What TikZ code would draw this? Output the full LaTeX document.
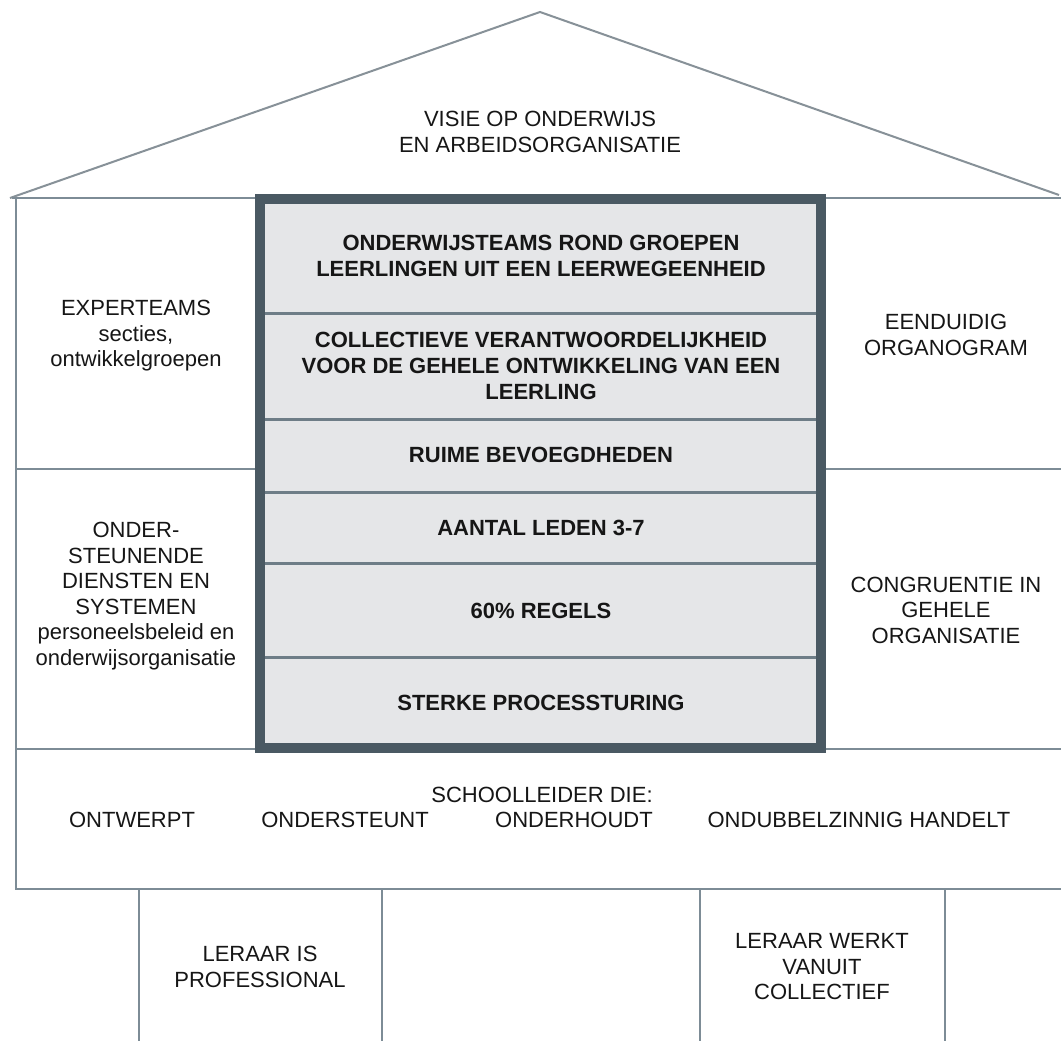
\documentclass[tikz,border=0pt]{standalone}
\usepackage{fontspec}
\setmainfont{Liberation Sans}
\definecolor{wallline}{RGB}{125,140,150}
\definecolor{roofline}{RGB}{135,145,152}
\definecolor{coreborder}{RGB}{74,89,99}
\definecolor{corefill}{RGB}{229,230,232}
\definecolor{divline}{RGB}{110,125,135}
\definecolor{ink}{RGB}{22,22,22}
\begin{document}
\begin{tikzpicture}[x=1pt,y=-1pt,
  lbl/.style={font=\fontsize{22}{25.5}\selectfont, text=ink, align=center, inner sep=0pt},
  corelbl/.style={lbl, font=\fontsize{22}{26}\selectfont\bfseries},
  wall/.style={draw=wallline, line width=2.4pt},
  roof/.style={draw=roofline, line width=2pt, line join=miter},
  coredivider/.style={draw=divline, line width=3pt},
  coreframe/.style={draw=coreborder, line width=10pt}]
\useasboundingbox (0,0) rectangle (1061,1041);
\fill[white] (0,0) rectangle (1061,1041);
% roof
\coordinate (roofL) at (10,198);
\coordinate (apex) at (540,12);
\coordinate (roofR) at (1059,195);
\draw[roof] (roofL) -- (apex) -- (roofR);
% walls and floors
\coordinate (wallTL) at (12,198);
\coordinate (wallTR) at (1061,198);
\coordinate (wallBL) at (16,889);
\coordinate (wallBR) at (1061,889);
\draw[wall] (wallTL) -- (wallTR);
\draw[wall] (16,198) -- (wallBL) -- (wallBR);
\draw[wall] (16,469) -- (259,469);
\draw[wall] (821,469) -- (1061,469);
\draw[wall] (16,749) -- (1061,749);
% foundation boxes
\draw[wall] (139,889) -- (139,1041);
\draw[wall] (382,889) -- (382,1041);
\draw[wall] (700,889) -- (700,1041);
\draw[wall] (945,889) -- (945,1041);
% core
\fill[corefill] (259.5,199) rectangle (821,748);
\draw[coredivider] (259.5,313) -- (821,313);
\draw[coredivider] (259.5,419) -- (821,419);
\draw[coredivider] (259.5,492) -- (821,492);
\draw[coredivider] (259.5,563) -- (821,563);
\draw[coredivider] (259.5,657) -- (821,657);
\draw[coreframe] (259.5,199) rectangle (821,748);
% roof text
\node[lbl] (visie) at (540,132) {VISIE OP ONDERWIJS\\EN ARBEIDSORGANISATIE};
% core texts
\node[corelbl] (teams) at (541,256) {ONDERWIJSTEAMS ROND GROEPEN\\LEERLINGEN UIT EEN LEERWEGEENHEID};
\node[corelbl] (collectief) at (541,366) {COLLECTIEVE VERANTWOORDELIJKHEID\\VOOR DE GEHELE ONTWIKKELING VAN EEN\\LEERLING};
\node[corelbl] (ruime) at (541,455) {RUIME BEVOEGDHEDEN};
\node[corelbl] (aantal) at (541,528) {AANTAL LEDEN 3-7};
\node[corelbl] (regels) at (541,611) {60\% REGELS};
\node[corelbl] (sturing) at (541,703) {STERKE PROCESSTURING};
% left column
\node[lbl] (experts) at (136,336) {EXPERTEAMS\\secties,\\ontwikkelgroepen};
\node[lbl] (diensten) at (136,596) {ONDER-\\STEUNENDE\\DIENSTEN EN\\SYSTEMEN\\personeelsbeleid en\\onderwijsorganisatie};
% right column
\node[lbl] (organogram) at (946,335) {EENDUIDIG\\ORGANOGRAM};
\node[lbl] (congruentie) at (946,610) {CONGRUENTIE IN\\GEHELE\\ORGANISATIE};
% school leader band
\node[lbl] (leider) at (542,795) {SCHOOLLEIDER DIE:};
\node[lbl] (ontwerpt) at (132,820) {ONTWERPT};
\node[lbl] (ondersteunt) at (345,820) {ONDERSTEUNT};
\node[lbl] (onderhoudt) at (574,820) {ONDERHOUDT};
\node[lbl] (handelt) at (859,820) {ONDUBBELZINNIG HANDELT};
% foundations
\node[lbl] (professional) at (260,967) {LERAAR IS\\PROFESSIONAL};
\node[lbl] (werkt) at (822,967) {LERAAR WERKT\\VANUIT\\COLLECTIEF};
\end{tikzpicture}
\end{document}
